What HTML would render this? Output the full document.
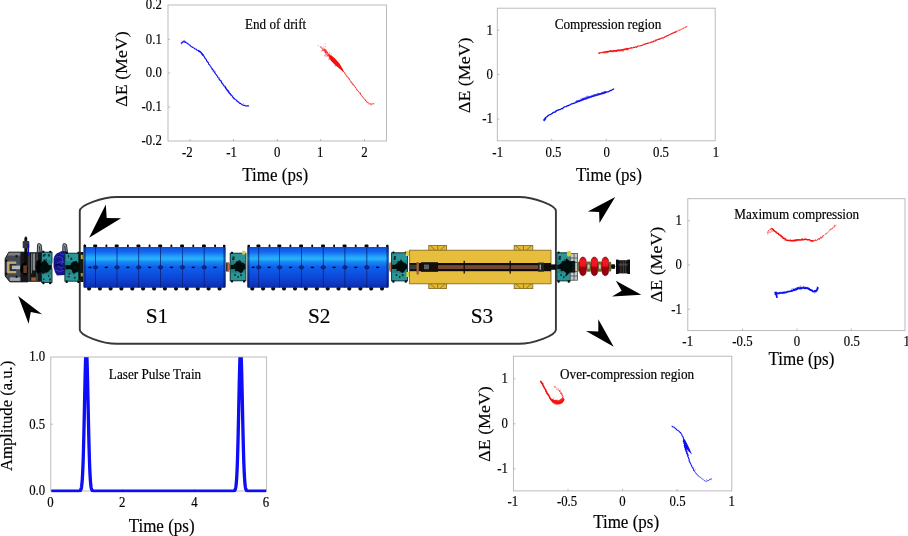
<!DOCTYPE html>
<html><head><meta charset="utf-8"><title>Figure</title>
<style>
html,body{margin:0;padding:0;background:#fff;}
body{width:908px;height:536px;overflow:hidden;font-family:"Liberation Serif",serif;}
svg{display:block;}
svg text{font-family:"Liberation Serif",serif;fill:#000;stroke:#000;stroke-width:0.16px;}
</style></head><body>
<svg width="908" height="536" viewBox="0 0 908 536">
<defs>
<linearGradient id="cylg" x1="0" y1="0" x2="0" y2="1">
<stop offset="0" stop-color="#104edc"/>
<stop offset="0.12" stop-color="#1466ee"/>
<stop offset="0.22" stop-color="#1e9cf8"/>
<stop offset="0.29" stop-color="#28b6fc"/>
<stop offset="0.36" stop-color="#1a8cf6"/>
<stop offset="0.48" stop-color="#1162ec"/>
<stop offset="0.72" stop-color="#0d4adc"/>
<stop offset="0.90" stop-color="#0b38c0"/>
<stop offset="1" stop-color="#092aa0"/>
</linearGradient>
<linearGradient id="redg" x1="0" y1="0" x2="0" y2="1">
<stop offset="0" stop-color="#d80818"/>
<stop offset="0.25" stop-color="#fa1828"/>
<stop offset="0.5" stop-color="#e81020"/>
<stop offset="0.52" stop-color="#a80010"/>
<stop offset="1" stop-color="#8a0008"/>
</linearGradient>
<filter id="tsoft" filterUnits="userSpaceOnUse" x="0" y="0" width="908" height="536"><feGaussianBlur stdDeviation="0.3"/></filter>
<filter id="soft2" x="-5%" y="-10%" width="110%" height="120%"><feGaussianBlur stdDeviation="0.3"/></filter>
<filter id="soft" x="-2%" y="-10%" width="104%" height="120%"><feGaussianBlur stdDeviation="0.45"/></filter>
</defs>
<rect width="908" height="536" fill="#fff"/>
<g filter="url(#tsoft)">
<rect x="168" y="5" width="218.5" height="136" fill="#fff" stroke="#b4b4b4" stroke-width="0.9"/>
<line x1="190" y1="141" x2="190" y2="139" stroke="#b4b4b4" stroke-width="1"/>
<line x1="233.5" y1="141" x2="233.5" y2="139" stroke="#b4b4b4" stroke-width="1"/>
<line x1="277.3" y1="141" x2="277.3" y2="139" stroke="#b4b4b4" stroke-width="1"/>
<line x1="320.7" y1="141" x2="320.7" y2="139" stroke="#b4b4b4" stroke-width="1"/>
<line x1="364.5" y1="141" x2="364.5" y2="139" stroke="#b4b4b4" stroke-width="1"/>
<line x1="168" y1="39.2" x2="170" y2="39.2" stroke="#b4b4b4" stroke-width="1"/>
<line x1="168" y1="73" x2="170" y2="73" stroke="#b4b4b4" stroke-width="1"/>
<line x1="168" y1="107" x2="170" y2="107" stroke="#b4b4b4" stroke-width="1"/>
<text transform="translate(187.3 157.1) scale(1 1.18)" font-size="12.8" text-anchor="middle">-2</text>
<text transform="translate(231.6 157.1) scale(1 1.18)" font-size="12.8" text-anchor="middle">-1</text>
<text transform="translate(277.2 157.1) scale(1 1.18)" font-size="12.8" text-anchor="middle">0</text>
<text transform="translate(320.2 157.1) scale(1 1.18)" font-size="12.8" text-anchor="middle">1</text>
<text transform="translate(364.5 157.1) scale(1 1.18)" font-size="12.8" text-anchor="middle">2</text>
<text transform="translate(161.8 9.4) scale(1 1.18)" font-size="12.8" text-anchor="end">0.2</text>
<text transform="translate(161.8 43.6) scale(1 1.18)" font-size="12.8" text-anchor="end">0.1</text>
<text transform="translate(161.8 77.4) scale(1 1.18)" font-size="12.8" text-anchor="end">0.0</text>
<text transform="translate(161.8 111.4) scale(1 1.18)" font-size="12.8" text-anchor="end">-0.1</text>
<text transform="translate(161.8 145.4) scale(1 1.18)" font-size="12.8" text-anchor="end">-0.2</text>
<text transform="translate(127.3 69) rotate(-90) scale(1.05 1)" font-size="17" text-anchor="middle" letter-spacing="0">&#916;E (MeV)</text>
<text transform="translate(275.2 180.9) scale(1 1.05)" font-size="17" text-anchor="middle">Time (ps)</text>
<text transform="translate(275.6 29.1) scale(1 1.05)" font-size="13.1" text-anchor="middle">End of drift</text>
<path d="M181.8 42.8 L182.5 42.29 L183.33 41.86 L184.54 41.8 L185.49 41.94 L185.96 42.25 L186.23 42.82 L187.32 43.3 L187.7 43.49 L188.4 44.14 L189.23 44.7 L189.9 45.09 L190.52 45.79 L191.01 46.53 L191.9 46.92 L192.27 46.95 L192.91 47.44 L193.69 47.87 L194.1 48.02 L194.69 48.78 L195.25 48.97 L196.08 49.03 L196.62 49.91 L196.88 50 L197.86 50.3 L198.6 50.82 L198.85 51.37 L199.8 51.78 L200.46 52.07 L200.85 52.31 L201.47 52.96 L201.76 53.39 L202.14 54.09 L203.03 54.43 L202.94 55.36 L203.84 55.94 L203.61 55.92 L204.41 56.83 L204.58 57.8 L205.5 58.43 L205.7 59.01 L206.32 59.61 L206.53 60.22 L206.58 60.99 L207.47 61.53 L207.38 62 L208.34 62.47 L208.6 63.67 L208.84 64.44 L209.6 64.77 L209.97 65.55 L210.35 66.26 L210.62 66.59 L211.33 67.29 L211.39 68.07 L212.23 68.44 L212.13 69.12 L212.78 69.73 L213.5 70.25 L213.93 70.87 L213.95 71.78 L214.69 72.4 L214.96 72.87 L215.33 73.54 L215.69 74.1 L216.25 74.66 L216.71 75.37 L217.37 75.94 L217.35 76.43 L217.86 77.27 L218.22 77.77 L219.03 77.84 L218.92 78.94 L219.61 79.53 L219.89 80.21 L220.44 80.59 L221.26 81.35 L221.14 81.86 L221.63 82.46 L221.59 82.97 L222.68 83.42 L222.9 84.37 L223.46 85.02 L223.39 85.24 L224.1 86.05 L224.8 86.08 L225.24 86.92 L225.6 87.51 L225.94 88.59 L226.3 88.99 L226.89 89.56 L227.15 90.37 L227.77 90.6 L228.49 90.99 L228.63 91.75 L228.95 92.51 L229.42 93.08 L229.56 93.26 L230.39 93.91 L230.55 94.36 L231.41 95.29 L231.91 95.52 L232.1 95.99 L232.76 97.06 L232.98 97.61 L233.85 97.85 L233.84 98.67 L234.7 98.83 L235.32 99.52 L236.04 99.75 L236.5 100.67 L237.16 100.88 L237.37 101.58 L238.12 101.89 L238.96 102.26 L238.89 102.66 L239.57 103.27 L240.56 103.39 L241.2 104.07 L241.93 104.55 L242.61 104.86 L243.59 105.28 L243.9 105.43 L244.36 105.3 L245.21 105.88 L246.25 105.79 L247.3 105.84 L247.97 105.91 L248.6 105.9" fill="none" stroke="#1010f2" stroke-width="1.15" stroke-linecap="round" stroke-linejoin="round" opacity="1"/>
<path d="M187.51 43.6h0.01M203.22 55.59h0.01M212.1 69.53h0.01M212.77 71.29h0.01M215.32 71.55h0.01M214.87 73.04h0.01M220.97 80.47h0.01M221.74 80.91h0.01M221.83 82.27h0.01M226.03 88.57h0.01M229.83 93.65h0.01M232.93 96.09h0.01M240.08 103.32h0.01M243.39 103.48h0.01" fill="none" stroke="#1010f2" stroke-width="0.8" stroke-linecap="round" opacity="0.55"/>
<path d="M181.4 43.6 L181.53 43.01 L182.49 42.24 L182.8 41.59 L183.15 41.43 L183.87 41.35 L184.8 41.85 L185.51 42.55 L186 42.8" fill="none" stroke="#1010f2" stroke-width="0.7" stroke-linecap="round" stroke-linejoin="round" opacity="0.7"/>
<path d="M181.25 44.01h0.01M180.76 42.89h0.01M181.98 41.09h0.01M182.01 43.12h0.01M183.26 40.35h0.01M184.72 40.27h0.01M184.71 40.76h0.01M184.82 42.31h0.01" fill="none" stroke="#1010f2" stroke-width="0.8" stroke-linecap="round" opacity="0.55"/>
<path d="M198.5 50.6 L198.56 50.71 L199.49 51.13 L200.36 52.07 L201.14 52.75 L201.91 53.52 L201.87 53.91 L202.42 54.48 L203 55.2" fill="none" stroke="#1010f2" stroke-width="1.5" stroke-linecap="round" stroke-linejoin="round" opacity="0.8"/>
<path d="M225 87 L225 87.36 L225.59 87.78 L226.06 88.27 L226.71 89.15 L227.04 89.59 L227.51 89.79 L227.78 91.01 L228.12 91.65 L228.98 91.96 L229.39 92.86 L230.03 93.7 L230.35 93.96 L230.7 94.62 L231 95" fill="none" stroke="#1010f2" stroke-width="1.4" stroke-linecap="round" stroke-linejoin="round" opacity="0.6"/>
<path d="M338 65.5 L338.22 65.66 L338.45 66.17 L339.02 66.66 L339.73 67.08 L340.64 67.68 L340.99 68.4 L341.6 68.59 L341.85 69.85 L342.49 70.72 L342.82 70.98 L343.31 71.43 L343.67 71.74 L344.1 72.1 L344.67 72.68 L344.92 73.89 L345.28 74.06 L346.01 74.66 L346.07 75.31 L346.79 75.99 L346.97 76.8 L347.9 77.03 L348.05 77.51 L348.71 78.02 L348.99 78.64 L349.15 79.45 L349.98 79.87 L350.01 80.61 L350.56 81.09 L351.3 81.83 L351.32 82.63 L351.86 82.91 L352.16 83.31 L352.36 84.25 L353.42 84.22 L353.27 84.71 L354.24 85.51 L354.42 86.1 L354.84 86.51 L355.3 87.01 L355.71 87.93 L356.26 88.39 L356.42 89.03 L356.93 89.88 L357.62 90.1 L357.8 90.54 L358.13 91.16 L358.81 91.89 L359.28 92.75 L359.45 92.87 L360.56 93.03 L360.39 94.07 L361.04 94.78 L361.49 95.44 L362.08 96.21 L362.23 96.55 L363.12 97.18 L363.41 98.15 L363.96 98.74 L364.67 99.22 L365.01 99.63 L364.95 100.06 L365.5 100.4" fill="none" stroke="#f80c0c" stroke-width="0.95" stroke-linecap="round" stroke-linejoin="round" opacity="0.9"/>
<path d="M342.3 69.26h0.01M342.09 72.1h0.01M345.74 74.66h0.01M348.95 78.31h0.01M350.56 81.88h0.01M352.09 82.49h0.01M353.36 85.67h0.01M357 90.69h0.01M360.16 94.57h0.01" fill="none" stroke="#f80c0c" stroke-width="0.8" stroke-linecap="round" opacity="0.55"/>
<path d="M365.5 100.4 L366.28 100.76 L366.68 101.73 L366.93 102.46 L368.16 102.75 L368.64 103.4 L369.77 103.57 L370.6 103.83 L370.84 104.27 L372.67 103.54 L373.88 103.81 L373.8 103.8" fill="none" stroke="#f80c0c" stroke-width="0.8" stroke-linecap="round" stroke-linejoin="round" opacity="0.75"/>
<path d="M366.82 101.04h0.01M366.22 101.92h0.01M367.8 102.25h0.01M368.3 102.71h0.01M368.92 104.47h0.01M370.33 103.88h0.01M370.41 104.84h0.01M371.46 104.83h0.01M372.26 104.41h0.01M373.95 103.84h0.01" fill="none" stroke="#f80c0c" stroke-width="0.8" stroke-linecap="round" opacity="0.55"/>
<path d="M328.8 55.2 L331.5 55.6 L335.5 59 L339.5 63.6 L343 69.6 L344.2 72.6 L340.2 69.2 L335.4 65.2 L331.6 61.6 L329.4 58.4 Z" fill="#f80c0c"/>
<path d="M324 49.5 L324.29 50.68 L325.14 50.07 L325.14 52.16 L325.6 51.29 L326.37 51.76 L326.99 52.84 L327.53 52.27 L327.17 53.08 L328.8 54.63 L327.69 55.39 L329.92 55.69 L330 57.03 L329.31 57.07 L331.3 58.39 L331.36 57.2 L332.04 58.02 L332.25 59.66 L332.41 60.52 L333.78 60.59 L334.01 60.62 L334.65 61.65 L334.67 62.09 L336.7 62.76 L336.64 63.5 L336.99 64.26 L336.49 64.7 L337.35 65.27 L338 65.5" fill="none" stroke="#f80c0c" stroke-width="1.2" stroke-linecap="round" stroke-linejoin="round" opacity="0.7"/>
<path d="M323.97 46.79h0.01M326.27 51.71h0.01M323.54 49.79h0.01M325.64 51.92h0.01M327.55 53.94h0.01M325.82 53.44h0.01M325.99 52.75h0.01M325.04 49.86h0.01M325.41 54.38h0.01M328.78 54.37h0.01M329.59 55.81h0.01M326.64 54.22h0.01M331.02 55.36h0.01M331.04 53.7h0.01M329.33 56.46h0.01M330.9 58.7h0.01M331.88 60.59h0.01M332.52 59.48h0.01M332.59 59.05h0.01M334.21 62.82h0.01M334.6 61.25h0.01M332.63 60.97h0.01M336.21 64.08h0.01M335.43 64.06h0.01M335.56 65.2h0.01M334.37 65.54h0.01M336.67 65.39h0.01M337.74 65.3h0.01M335.7 66.7h0.01" fill="none" stroke="#f80c0c" stroke-width="0.8" stroke-linecap="round" opacity="0.55"/>
<path d="M326.54 50.48h0.01M324.43 48.82h0.01M328.52 54.24h0.01M326.78 55.75h0.01M322.28 50.32h0.01M332.35 59.34h0.01M330.7 56.44h0.01M325.71 46.66h0.01M329.11 53.84h0.01M326.76 50.19h0.01M331.29 59.28h0.01M321.37 51.12h0.01M330.49 57.99h0.01M324.13 51.42h0.01M322.39 50.71h0.01M332.49 58.34h0.01M331.74 56.79h0.01M320.96 46.89h0.01M327.43 56.01h0.01M325.71 54.94h0.01M325.65 52.32h0.01M326.86 54.41h0.01M329.67 54.4h0.01M322.37 48.97h0.01M321.9 48.5h0.01M325.49 52.1h0.01M329.84 55.84h0.01M329.12 56.28h0.01M324.25 55.63h0.01M325.2 44.13h0.01M329.39 54.79h0.01M328.55 59.08h0.01M332.24 60.48h0.01M332.34 58.83h0.01M330.82 58.92h0.01M324.31 49.22h0.01M327.3 52.35h0.01M322.75 49.83h0.01M321.72 47.92h0.01M330.12 55.23h0.01M323 47.94h0.01M326.03 52.09h0.01M328.99 56.8h0.01M333.95 60.71h0.01M326.1 56.24h0.01M325.62 49.78h0.01M325.09 49.38h0.01M322.93 48.31h0.01M329.98 59.13h0.01M330.18 57.69h0.01M324.78 50.51h0.01M321.61 47.33h0.01M327.19 52.49h0.01M323.34 49.16h0.01M320.65 47.23h0.01M325.21 53.15h0.01M328 56.11h0.01M328.25 55.35h0.01M324.02 50.22h0.01M329.59 52.56h0.01M325.4 51.87h0.01M326.98 54.09h0.01M325.23 55.97h0.01M329.1 59.23h0.01M320.18 46.83h0.01M325.72 50.57h0.01M318.2 45.56h0.01M323.12 50.46h0.01M325.08 50.66h0.01M322.52 50.04h0.01" fill="none" stroke="#f80c0c" stroke-width="0.85" stroke-linecap="round" opacity="0.6"/>
<rect x="497.3" y="8.2" width="217.9" height="132.6" fill="#fff" stroke="#b4b4b4" stroke-width="0.9"/>
<line x1="551.7" y1="140.8" x2="551.7" y2="138.8" stroke="#b4b4b4" stroke-width="1"/>
<line x1="606.3" y1="140.8" x2="606.3" y2="138.8" stroke="#b4b4b4" stroke-width="1"/>
<line x1="660.8" y1="140.8" x2="660.8" y2="138.8" stroke="#b4b4b4" stroke-width="1"/>
<line x1="497.3" y1="30.2" x2="499.3" y2="30.2" stroke="#b4b4b4" stroke-width="1"/>
<line x1="497.3" y1="74.5" x2="499.3" y2="74.5" stroke="#b4b4b4" stroke-width="1"/>
<line x1="497.3" y1="119" x2="499.3" y2="119" stroke="#b4b4b4" stroke-width="1"/>
<text transform="translate(497.7 156.6) scale(1 1.18)" font-size="12.8" text-anchor="middle">-1</text>
<text transform="translate(553.5 156.6) scale(1 1.18)" font-size="12.8" text-anchor="middle">0.5</text>
<text transform="translate(606.7 156.6) scale(1 1.18)" font-size="12.8" text-anchor="middle">0</text>
<text transform="translate(661 156.6) scale(1 1.18)" font-size="12.8" text-anchor="middle">0.5</text>
<text transform="translate(715.9 156.6) scale(1 1.18)" font-size="12.8" text-anchor="middle">1</text>
<text transform="translate(492.9 34.6) scale(1 1.18)" font-size="12.8" text-anchor="end">1</text>
<text transform="translate(492.9 78.9) scale(1 1.18)" font-size="12.8" text-anchor="end">0</text>
<text transform="translate(492.9 123.4) scale(1 1.18)" font-size="12.8" text-anchor="end">-1</text>
<text transform="translate(469.8 75.3) rotate(-90) scale(1.05 1)" font-size="17" text-anchor="middle" letter-spacing="0">&#916;E (MeV)</text>
<text transform="translate(608.9 180.9) scale(1 1.05)" font-size="17" text-anchor="middle">Time (ps)</text>
<text transform="translate(608 29.3) scale(1 1.05)" font-size="13.2" text-anchor="middle">Compression region</text>
<path d="M543.9 119.9 L544.29 119.2 L545.05 118.88 L545.24 117.99 L545.79 117.4 L546.35 117.21 L546.9 116.74 L547.35 116.52 L548.08 115.47 L548.69 115.32 L549.11 115.03 L549.95 114.51 L550.5 114.6 L551.29 113.94 L551.82 113.58 L552.43 113.38 L553.08 112.46 L553.76 112.39 L554.55 112.09 L555.14 112.25 L555.61 111.3 L556.23 110.71 L556.84 110.83 L557.77 110.06 L558.32 110.13 L559.15 109.59 L560.06 109.54 L561.06 109.14 L561.45 108.65 L562.47 108.54 L562.81 108.03 L563.63 107.63 L564.21 107.06 L564.92 106.7 L565.95 106.75 L566.23 106.59 L567.33 105.68 L568.21 105.86 L568.97 105.18 L569.4 105.17 L570.03 104.83 L570.87 104.24 L571.16 103.97 L572.02 103.81 L572.97 103.65 L573.53 103.23 L574.09 103.27 L574.98 102.85 L575.47 102.85 L576.12 102.42 L577.13 101.98 L577.77 101.56 L578.48 101.54 L578.69 101.36 L579.49 101.2 L580.21 100.67 L581.06 100.37 L581.73 100.07 L582.48 99.9 L583.07 99.15 L583.91 99.41 L584.14 99.14 L585.3 99.05 L585.78 98.88 L586.7 98.78 L587.46 98.22 L588.17 97.65 L589.2 97.76 L589.95 97.54 L590.24 96.87 L590.9 96.83 L591.55 96.84 L592.43 96.48 L593.08 96.29 L593.76 96.24 L594.57 95.78 L594.8 95.95 L595.77 95.69 L596.13 95.23 L597.11 94.83 L597.69 95.03 L598.65 94.98 L598.97 94.25 L599.89 94.47 L600.61 93.84 L601.49 93.99 L602.23 93.53 L602.95 93.54 L603.55 92.83 L604.45 93.02 L605.1 92.86 L605.78 92.41 L606.59 92.25 L607.66 91.83 L608.45 91.87 L608.93 91.41 L609.82 90.97 L610.24 90.47 L611.16 90.52 L611.97 89.97 L612.58 89.56 L612.99 89.41 L613.7 89" fill="none" stroke="#1010f2" stroke-width="1.25" stroke-linecap="round" stroke-linejoin="round" opacity="1"/>
<path d="M556.26 111.27h0.01M568.26 105.3h0.01M582.94 100.25h0.01M583.15 99.71h0.01M609.41 90.52h0.01" fill="none" stroke="#1010f2" stroke-width="0.8" stroke-linecap="round" opacity="0.55"/>
<path d="M576 102 L576.47 101.75 L577.23 101.03 L577.56 101.19 L578.42 100.68 L578.99 100.74 L580.14 100.28 L580.53 100.21 L581.49 99.9 L582.2 99.13 L583.32 99.62 L583.75 98.62 L584.69 98.29 L585.14 97.87 L586.16 97.74 L586.54 97.65 L587 97.24 L587.81 97.03 L588.82 96.86 L589.21 97.11 L590.16 96.93 L590.94 96.56 L591.53 96.49 L591.63 96 L592.77 95.74 L593.68 95.25 L593.85 95.13 L595.17 94.83 L595.1 95.22 L596.9 94.82 L597.2 94.36 L597.62 93.91 L598.92 93.88 L599.71 93.75 L599.36 93.66 L601.35 93.43 L601.59 92.87 L602.85 92.58 L603.14 92.61 L604.3 92.11 L604.68 92.23 L605.02 91.75 L606 91.8" fill="none" stroke="#1010f2" stroke-width="1.5" stroke-linecap="round" stroke-linejoin="round" opacity="0.75"/>
<path d="M575.44 101.99h0.01M577.42 101.67h0.01M576.63 102.14h0.01M576.68 100.83h0.01M579.29 101.33h0.01M580.29 100.59h0.01M581.11 101.54h0.01M580.67 98.7h0.01M582.22 98.43h0.01M582.83 98.2h0.01M583.99 97.88h0.01M585.41 98.57h0.01M585.98 96.53h0.01M585.55 98.78h0.01M586.63 97.38h0.01M587.29 97.64h0.01M587.51 95.85h0.01M589.05 96.81h0.01M590.27 95.81h0.01M592.01 96.28h0.01M593.82 95.25h0.01M592.47 95.93h0.01M593.59 95.92h0.01M595.32 95.33h0.01M595.31 95.01h0.01M597.62 94.75h0.01M597.2 93.96h0.01M598.14 93.11h0.01M600.2 94.29h0.01M598.42 94h0.01M601.97 93.09h0.01M602.79 93.16h0.01M603.08 93.6h0.01M604.8 91.7h0.01M604.35 92.79h0.01M605.38 91.58h0.01M605.34 92.56h0.01" fill="none" stroke="#1010f2" stroke-width="0.8" stroke-linecap="round" opacity="0.55"/>
<path d="M544.2 120.4 L544.29 120.12 L545.48 119 L545.5 118.6" fill="none" stroke="#1010f2" stroke-width="1.6" stroke-linecap="round" stroke-linejoin="round" opacity="0.9"/>
<path d="M598.7 53.2 L599.02 52.79 L599.55 53.22 L600.66 52.83 L600.93 52.64 L601.49 52.74 L602.45 52.61 L603.15 52.04 L604.3 51.99 L605.14 52 L605.51 52 L606.6 51.43 L607.51 51.76 L608.06 51.24 L608.53 51.41 L609.6 51.12 L609.98 50.92 L610.83 51.26 L611.3 50.99 L612.41 51.29 L613.16 50.86 L613.54 50.66 L614.34 50.78 L615.16 50.96 L615.93 50.38 L616.86 50.66 L617.31 50.27 L617.66 50.12 L618.87 50.05 L619.18 50.13 L620.17 50.1 L620.95 50.13 L621.39 49.95 L622.07 49.78 L623 49.58 L623.85 49.42 L624.6 49.46 L625.15 49.08 L625.72 48.96 L626.56 48.92 L627.87 48.91 L628.21 48.51 L628.69 48.47 L629.58 48.2 L630.57 48.15 L631.19 47.68 L631.71 48 L632.45 47.9 L633.17 47.67 L633.47 47.35 L634.08 47.42 L635.25 47.11 L635.74 46.86 L636.93 47.1 L637.29 46.83 L637.73 46.06 L638.65 46.05 L639.35 46.04 L640.73 45.68 L640.92 45.64 L641.63 45.54 L642.68 44.93 L643.11 44.88 L643.86 44.42 L644.2 44.05 L645.32 44.27 L645.95 43.57 L646.58 43.62 L647.11 43.34 L648.2 43.36 L648.78 43.1 L649.38 42.77 L650.21 42.6 L650.9 42.22 L651.6 41.87 L652.73 41.81 L653.12 41.87 L654 40.91 L654.58 41.07 L655.51 40.89 L656.02 40.16 L656.44 40.15 L657.34 39.67 L657.83 39.52 L658.56 39.4 L659.15 38.86 L660.07 39.11 L660.48 38.75 L661.23 38.42 L661.89 37.9 L662.56 37.95 L662.94 37.85 L664.19 37.53 L664.89 37.03 L665.18 36.48 L665.8 36.3 L666.65 36.09 L667 36.07 L668.48 35.33 L668.91 35.11 L669.55 34.66 L670.15 34.25 L670.93 34.06 L671.71 33.57 L672.41 33.38 L673.26 32.83 L673.94 32.87 L674.63 32.32 L675.03 32.07 L675.74 32.16 L676 31.7" fill="none" stroke="#f80c0c" stroke-width="1.1" stroke-linecap="round" stroke-linejoin="round" opacity="1"/>
<path d="M599.4 53.63h0.01M604.93 51.39h0.01M606.65 51.27h0.01M609.98 51.02h0.01M615.23 50.5h0.01M624 48.47h0.01M627.01 48.84h0.01M631.04 48.78h0.01M631.07 47.49h0.01M636.39 47.45h0.01M655.75 39.68h0.01M661.16 38.33h0.01M663.47 38.99h0.01M667.07 35.29h0.01" fill="none" stroke="#f80c0c" stroke-width="0.8" stroke-linecap="round" opacity="0.55"/>
<path d="M604 52.6 L604.21 52.51 L604.66 52.51 L605.79 52.45 L606.62 52.38 L607.07 52.2 L608.14 52.05 L608.47 51.62 L609.61 51.4 L610.66 51.35 L611.52 51.08 L611.88 51.19 L612.7 51.27 L613.66 51.35 L614.06 51.04 L615.02 50.96 L615.42 51.38 L616.52 51.2 L616.95 50.75 L618.16 50.64 L618.64 50.4 L619.87 50.74 L619.9 50.44 L620.53 50.5 L621.57 50.03 L622.55 50.8 L623.26 49.75 L623.97 50.04 L624.74 49.31 L626.02 49.11 L625.92 49.39 L627.02 48.84 L627.06 49.35 L628 49.2" fill="none" stroke="#f80c0c" stroke-width="1.5" stroke-linecap="round" stroke-linejoin="round" opacity="0.7"/>
<path d="M604.04 52.56h0.01M603.48 52.45h0.01M604.78 52.84h0.01M606.8 52.51h0.01M608.05 51.43h0.01M608.47 51.58h0.01M610.18 50.51h0.01M610.41 51.65h0.01M612.08 52.02h0.01M613.42 52.02h0.01M613.59 50.27h0.01M613.18 51.65h0.01M615.8 51.21h0.01M616.68 50.4h0.01M617.21 50.81h0.01M616.96 50.19h0.01M617.45 50.35h0.01M619.04 50.45h0.01M619.37 50.85h0.01M621.9 49.23h0.01M620.81 50.49h0.01M622.19 49.72h0.01M623.42 51.31h0.01M626.67 50.37h0.01M627.19 47.8h0.01M627.85 49.68h0.01M627.61 49.19h0.01" fill="none" stroke="#f80c0c" stroke-width="0.8" stroke-linecap="round" opacity="0.55"/>
<path d="M676 31.7 L676.4 31.33 L677.63 31.06 L678.41 30.72 L679.04 30.13 L679.96 29.82 L680.74 29.77 L681.5 29.1" fill="none" stroke="#f80c0c" stroke-width="0.9" stroke-linecap="round" stroke-linejoin="round" opacity="0.85"/>
<path d="M675.49 31.71h0.01M676.25 31.05h0.01M679.17 30.46h0.01M681.07 29.55h0.01" fill="none" stroke="#f80c0c" stroke-width="0.8" stroke-linecap="round" opacity="0.55"/>
<path d="M682.6 28.6 L684.2 27.8 M685.3 27.3 L686.9 26.5" stroke="#f80c0c" stroke-width="1" fill="none" opacity="0.9" stroke-linecap="round"/>
<rect x="687.8" y="198.7" width="217.2" height="131.9" fill="#fff" stroke="#b4b4b4" stroke-width="0.9"/>
<line x1="742.5" y1="330.6" x2="742.5" y2="328.6" stroke="#b4b4b4" stroke-width="1"/>
<line x1="797" y1="330.6" x2="797" y2="328.6" stroke="#b4b4b4" stroke-width="1"/>
<line x1="851.3" y1="330.6" x2="851.3" y2="328.6" stroke="#b4b4b4" stroke-width="1"/>
<line x1="687.8" y1="220.8" x2="689.8" y2="220.8" stroke="#b4b4b4" stroke-width="1"/>
<line x1="687.8" y1="265" x2="689.8" y2="265" stroke="#b4b4b4" stroke-width="1"/>
<line x1="687.8" y1="309.2" x2="689.8" y2="309.2" stroke="#b4b4b4" stroke-width="1"/>
<text transform="translate(687.7 345.9) scale(1 1.18)" font-size="12.8" text-anchor="middle">-1</text>
<text transform="translate(742.4 345.9) scale(1 1.18)" font-size="12.8" text-anchor="middle">-0.5</text>
<text transform="translate(797 345.9) scale(1 1.18)" font-size="12.8" text-anchor="middle">0</text>
<text transform="translate(851.8 345.9) scale(1 1.18)" font-size="12.8" text-anchor="middle">0.5</text>
<text transform="translate(906.6 345.9) scale(1 1.18)" font-size="12.8" text-anchor="middle">1</text>
<text transform="translate(681.9 225.2) scale(1 1.18)" font-size="12.8" text-anchor="end">1</text>
<text transform="translate(681.9 269.4) scale(1 1.18)" font-size="12.8" text-anchor="end">0</text>
<text transform="translate(681.9 313.6) scale(1 1.18)" font-size="12.8" text-anchor="end">-1</text>
<text transform="translate(661.8 264.5) rotate(-90) scale(1.05 1)" font-size="17" text-anchor="middle" letter-spacing="0">&#916;E (MeV)</text>
<text transform="translate(801.4 365.3) scale(1 1.05)" font-size="17" text-anchor="middle">Time (ps)</text>
<text transform="translate(796.7 219.3) scale(1 1.05)" font-size="13.2" text-anchor="middle">Maximum compression</text>
<path d="M771.8 228.6 L772.3 228.9 L773.38 229.56 L773.55 230.52 L774.41 230.92 L775.08 231.41 L775.96 231.62 L776.16 232.57 L776.92 232.96 L777.96 233.29 L778.52 233.89 L778.72 234.31 L780.03 235.1 L780.25 235.28 L781.12 235.69 L781.27 236.77 L782.28 236.83 L782.78 237.28 L782.89 238.03 L783.82 238.41 L784.57 238.4 L785 238.8 L785.64 239.52 L786.36 240.21 L786.81 240.22 L787.92 240.34 L788.27 240.46 L789.35 240.46 L790.11 240.29 L790.75 240.73 L791.43 240.77 L792.55 240.66 L792.85 240.67 L793.67 240.39 L794.33 240.92 L795.29 240.57 L796.06 239.9 L796.69 240.39 L797.25 239.86 L798.16 239.96 L799.11 239.79 L799.68 240.01 L800.72 239.89 L801.2 240.02 L801.8 239.27 L802.74 239.7 L803.56 239.83 L804.35 239.55 L804.63 239.31 L805.53 239.16 L806.19 239.19 L807.14 239.79 L808.19 239.75 L808.93 239.62 L809.56 239.92 L810.1 240.2 L810.79 240.5 L812.34 240.78 L813 240.8" fill="none" stroke="#f80c0c" stroke-width="1.5" stroke-linecap="round" stroke-linejoin="round" opacity="1"/>
<path d="M776.28 232.54h0.01M781.18 235.35h0.01M783.32 238.07h0.01M784.24 238.32h0.01M784.11 239.35h0.01M784.52 240.04h0.01M786.08 238.44h0.01M790.7 239.3h0.01M792.13 239.72h0.01M792.2 240.97h0.01M794.84 239.82h0.01M794.11 239.69h0.01M798.09 239.82h0.01M802.46 238.55h0.01M804.84 239.13h0.01M811.7 240.77h0.01M812.84 241.2h0.01" fill="none" stroke="#f80c0c" stroke-width="0.8" stroke-linecap="round" opacity="0.55"/>
<path d="M813 240.8 L813.57 240.87 L814.01 240.41 L815.5 240.08 L815.98 240.5 L817.24 239.9 L817.46 239.75 L817.95 238.77 L819.34 238.93 L819.54 237.94 L820.56 237.14 L821.27 237.48 L821.55 237.07 L822.5 236.58 L823.01 236.5 L823.29 235.68 L823.85 235.5 L824.53 234.84 L825.31 234.22 L826.39 233.67 L826.94 233.41 L827.58 232.55 L827.97 232.39 L828.04 231.82 L828.71 231.28 L829.66 230.61 L829.35 229.83 L830.28 229.64 L831 229.46 L832.08 228.87 L832.34 227.98 L833.04 227.97 L833.93 226.38 L834.43 226.8 L834.99 225.36 L835.15 225.51 L835.6 225" fill="none" stroke="#f80c0c" stroke-width="0.9" stroke-linecap="round" stroke-linejoin="round" opacity="0.55"/>
<path d="M812.54 240.65h0.01M814.96 240.61h0.01M815.58 239.48h0.01M817.44 239.28h0.01M818.26 238.82h0.01M819.4 239h0.01M821.02 237.83h0.01M821.08 237.28h0.01M822.49 236.25h0.01M822.91 235.58h0.01M823.31 235.48h0.01M825.74 234.21h0.01M826.34 233.44h0.01M826.95 233.1h0.01M830.48 229.67h0.01M830.68 229.03h0.01M832.12 228.61h0.01M832.06 228.63h0.01M833.82 227.64h0.01M834.81 226.72h0.01M834.3 225.54h0.01M834.78 225.14h0.01M836.04 225.95h0.01" fill="none" stroke="#f80c0c" stroke-width="0.8" stroke-linecap="round" opacity="0.55"/>
<path d="M811 241.2 L811.69 240.99 L812.62 241.33 L813.2 241.41 L813.93 240.89 L814.87 240.74 L815.27 240.58 L816.6 240.54 L817.29 240.28 L817.91 239.56 L818.22 239.05 L819.69 239.8 L819.69 238.66 L820.63 238.05 L821.61 238.47 L821.48 237.11 L822.9 237.29 L823 236.6" fill="none" stroke="#f80c0c" stroke-width="0.7" stroke-linecap="round" stroke-linejoin="round" opacity="0.5"/>
<path d="M811.8 241.28h0.01M811.25 242.06h0.01M812.95 240.59h0.01M815.19 240.36h0.01M814.98 240.25h0.01M816.98 240.55h0.01M819.49 238.63h0.01M820.58 238.03h0.01M822.79 237.51h0.01" fill="none" stroke="#f80c0c" stroke-width="0.8" stroke-linecap="round" opacity="0.55"/>
<path d="M767.4 232.2 L767.98 231.69 L768.53 230.73 L768.97 230.12 L769.74 229.46 L770.99 229.76 L770.87 228.77 L771.8 228.6" fill="none" stroke="#f80c0c" stroke-width="0.8" stroke-linecap="round" stroke-linejoin="round" opacity="0.6"/>
<path d="M767.18 232.53h0.01M768.71 230.77h0.01M769.01 232.09h0.01M768.58 230.7h0.01M770.25 229.16h0.01M770.4 229.1h0.01M771.63 230.33h0.01M772.21 228.72h0.01" fill="none" stroke="#f80c0c" stroke-width="0.8" stroke-linecap="round" opacity="0.55"/>
<path d="M767.8 233.6 L768 233.08 L768.92 232.69 L769.45 231.95 L770.73 231.64 L771.45 231.15 L772.6 231.18 L773 230.6" fill="none" stroke="#f80c0c" stroke-width="0.7" stroke-linecap="round" stroke-linejoin="round" opacity="0.5"/>
<path d="M767.73 234.51h0.01M770.37 232.63h0.01M767.82 232.22h0.01M772.75 231.82h0.01" fill="none" stroke="#f80c0c" stroke-width="0.8" stroke-linecap="round" opacity="0.55"/>
<path d="M776.9 297.2 L776.62 296.28 L776.52 295.04 L775.77 294.58 L775.56 294.03 L775.27 292.96 L775.16 292.63 L776.22 292.46 L776.68 293.07 L777.83 293.48 L778.69 293.21 L779.79 292.81 L780.13 293.03 L781.16 292.99 L782.18 292.83 L782.55 293.08 L782.93 292.28 L783.9 292.96 L784.88 292.22 L785.91 292.51 L786.8 291.99 L787.32 291.55 L788.08 291.62 L788.19 291.55 L789.59 291.48 L790.6 291.03 L791.15 291.21 L792.06 290.8 L792.92 290.65 L793.87 289.69 L794.53 290.23 L795.57 289.44 L796.48 289.56 L796.91 288.91 L797.59 289.04 L797.63 288.55 L798.54 287.98 L799.77 288.6 L800.4 287.77 L800.8 288.33 L801.87 288.08 L802.56 287.98 L803.13 287.71 L803.6 287.91 L804.8 288.26 L806.27 288.06 L805.53 287.77 L807.49 288.44 L807.79 288.3 L808.7 288.99 L809.59 289.65 L810.46 289.89 L810.44 290.12 L811.23 290.11 L812.09 290.31 L812.76 291.33 L814.07 291.65 L815.04 290.68 L815.61 291.53 L816.83 290.45 L816.78 290.22 L817.34 288.95 L817.83 288.19 L817.7 287.6" fill="none" stroke="#1010f2" stroke-width="1.7" stroke-linecap="round" stroke-linejoin="round" opacity="1"/>
<path d="M777.55 297.16h0.01M776.95 295.62h0.01M775.05 294.59h0.01M776.59 293.41h0.01M776 294.22h0.01M777.41 292.77h0.01M777.88 292.79h0.01M778.98 292.24h0.01M779.92 292.8h0.01M780.66 292.09h0.01M781.87 292.27h0.01M785.74 292.85h0.01M786.59 292.61h0.01M789.45 291.46h0.01M791.6 289.62h0.01M791.22 289.07h0.01M791.49 291.4h0.01M793.08 288.91h0.01M792.73 288.88h0.01M795.81 288.97h0.01M799.38 286.69h0.01M798.66 288.76h0.01M800.15 288.06h0.01M801.85 289.27h0.01M800.85 289.69h0.01M804.97 289.52h0.01M805.7 288.1h0.01M807.24 288.41h0.01M808.89 288.58h0.01M809.9 289.97h0.01M809.8 289.13h0.01M811.68 291.48h0.01M814.61 293.47h0.01M816.81 291.13h0.01M817.88 290.15h0.01M816.39 288.71h0.01M817 286.96h0.01" fill="none" stroke="#1010f2" stroke-width="0.8" stroke-linecap="round" opacity="0.55"/>
<path d="M795 288.6 L796.26 288.37 L795.98 287.87 L796.62 288.4 L797.98 287.71 L798.12 287.81 L800.13 288.46 L800.55 287.22 L800.99 286.98 L801.13 286.8 L802.16 287.28 L803.43 287.53 L803.76 286.19 L804.87 287.29 L804.74 287.71 L805.43 287.25 L806.59 287.58 L807.39 287.07 L807.67 288.11 L809.23 288.4 L809.1 288.16 L810 288.8" fill="none" stroke="#1010f2" stroke-width="0.9" stroke-linecap="round" stroke-linejoin="round" opacity="0.7"/>
<path d="M793.91 288.42h0.01M794.96 289.47h0.01M796.25 289.35h0.01M797.55 287.53h0.01M796.69 287.65h0.01M799.57 288.97h0.01M798.27 287.19h0.01M801.41 288.43h0.01M800.48 285.89h0.01M802.46 288.07h0.01M805.35 287.7h0.01M804.86 288.49h0.01M806.25 287.69h0.01M808.64 287.83h0.01M806.79 288.34h0.01M809.65 289.39h0.01M808.96 288.56h0.01M809.58 289.46h0.01" fill="none" stroke="#1010f2" stroke-width="0.8" stroke-linecap="round" opacity="0.55"/>
<path d="M776.2 294.5 L776.71 293.89 L777.75 293.72 L778.61 293.72 L779.5 293.8" fill="none" stroke="#1010f2" stroke-width="0.9" stroke-linecap="round" stroke-linejoin="round" opacity="0.8"/>
<rect x="513.4" y="356.2" width="218.4" height="134.7" fill="#fff" stroke="#b4b4b4" stroke-width="0.9"/>
<line x1="568" y1="490.9" x2="568" y2="488.9" stroke="#b4b4b4" stroke-width="1"/>
<line x1="622.6" y1="490.9" x2="622.6" y2="488.9" stroke="#b4b4b4" stroke-width="1"/>
<line x1="677.2" y1="490.9" x2="677.2" y2="488.9" stroke="#b4b4b4" stroke-width="1"/>
<line x1="513.4" y1="378.8" x2="515.4" y2="378.8" stroke="#b4b4b4" stroke-width="1"/>
<line x1="513.4" y1="423.8" x2="515.4" y2="423.8" stroke="#b4b4b4" stroke-width="1"/>
<line x1="513.4" y1="468.8" x2="515.4" y2="468.8" stroke="#b4b4b4" stroke-width="1"/>
<text transform="translate(512.9 505.8) scale(1 1.18)" font-size="12.8" text-anchor="middle">-1</text>
<text transform="translate(567 505.8) scale(1 1.18)" font-size="12.8" text-anchor="middle">-0.5</text>
<text transform="translate(622.4 505.8) scale(1 1.18)" font-size="12.8" text-anchor="middle">0</text>
<text transform="translate(677.6 505.8) scale(1 1.18)" font-size="12.8" text-anchor="middle">0.5</text>
<text transform="translate(731.6 505.8) scale(1 1.18)" font-size="12.8" text-anchor="middle">1</text>
<text transform="translate(507.9 383.2) scale(1 1.18)" font-size="12.8" text-anchor="end">1</text>
<text transform="translate(507.9 428.2) scale(1 1.18)" font-size="12.8" text-anchor="end">0</text>
<text transform="translate(507.9 473.2) scale(1 1.18)" font-size="12.8" text-anchor="end">-1</text>
<text transform="translate(489.8 424) rotate(-90) scale(1.05 1)" font-size="17" text-anchor="middle" letter-spacing="0">&#916;E (MeV)</text>
<text transform="translate(626.1 528.3) scale(1 1.05)" font-size="17" text-anchor="middle">Time (ps)</text>
<text transform="translate(627.1 379.3) scale(1 1.05)" font-size="13.2" text-anchor="middle">Over-compression region</text>
<path d="M540.6 381.4 L541.09 381.76 L541.28 382.73 L542.16 383.47 L542.8 384.16 L542.69 384.91 L543.17 385.51 L543.35 385.69 L543.8 386.85 L543.88 387.19 L544.83 388.61 L544.95 388.61 L545.23 389.26 L545.96 390.19 L545.83 390.86 L545.92 391.35 L546.7 391.94 L546.85 392.5 L547 393.33 L547.5 393.95 L548.17 394.26 L548.19 395.21 L548.97 395.7 L549.21 396.5 L549.88 397.46 L549.62 397.91 L550.31 398.5 L550.81 399.43 L551.28 399.89 L551.98 400.69 L552.14 400.97 L552.81 401.28 L553.68 402.04 L554.52 402.21 L554.68 402.27 L556.18 402.44 L556.87 403.07 L557.48 403 L558.4 403 L558.98 403.14 L559.71 403.26 L560.18 402.62 L561.17 402.4 L561.85 402.3 L562.73 401.03 L563.05 400.85 L563.62 400.02 L563.6 399.4" fill="none" stroke="#f80c0c" stroke-width="1.5" stroke-linecap="round" stroke-linejoin="round" opacity="1"/>
<path d="M543.48 383.61h0.01M542.51 385.59h0.01M544.47 386.77h0.01M546 393.08h0.01M547.58 393.01h0.01M548.91 393.92h0.01M550.32 399.5h0.01M550.77 398.33h0.01M551.95 400.14h0.01M553.96 400.89h0.01M554.9 402.46h0.01M554.94 401.83h0.01M554.68 402.28h0.01M557.37 402.56h0.01M558.92 400.88h0.01M558.89 403.65h0.01M560.06 402.6h0.01M563.58 399.58h0.01" fill="none" stroke="#f80c0c" stroke-width="0.8" stroke-linecap="round" opacity="0.55"/>
<path d="M550 397.8 L552.6 403 L555.4 404.4 L558.4 404.6 L561.8 403.4 L563.9 400.8 L563.8 398.4 L562 398 L558.8 400.2 L554.4 400 Z" fill="#f80c0c" opacity="0.82"/>
<path d="M540.8 381 L543.2 383.2 L542.6 385.6 Z" fill="#f80c0c"/>
<path d="M563.5 399.6 L563.19 398.89 L563 398.3 L562.42 397.01 L562.99 396.5 L562.68 395.42 L562.03 394.99 L561.93 394.55 L561.72 393.31 L560.93 393.42 L560.73 392.27 L559.99 391.32 L559.3 390.8" fill="none" stroke="#f80c0c" stroke-width="1" stroke-linecap="round" stroke-linejoin="round" opacity="0.85"/>
<path d="M563.17 400.17h0.01M563.38 398.55h0.01M563.7 397.32h0.01M561.75 396h0.01M562.83 395.17h0.01M561.61 394.15h0.01M560.23 393.49h0.01M561.09 393.45h0.01M560.43 390.34h0.01M559.46 391.01h0.01" fill="none" stroke="#f80c0c" stroke-width="0.8" stroke-linecap="round" opacity="0.55"/>
<path d="M559.3 390.8 L558.44 390.28 L558.54 389.78 L557.82 389.17 L556.61 388.2 L556.36 388.01 L555.65 387.37 L554.72 387.31 L554 386.2" fill="none" stroke="#f80c0c" stroke-width="0.7" stroke-linecap="round" stroke-linejoin="round" opacity="0.4"/>
<path d="M559.95 390.56h0.01M558.04 389.87h0.01M558.25 389.16h0.01M558.19 388.92h0.01M556.61 389.43h0.01M555.86 387.47h0.01M555.8 386.28h0.01M554.7 387.41h0.01M554.8 386.41h0.01" fill="none" stroke="#f80c0c" stroke-width="0.8" stroke-linecap="round" opacity="0.55"/>
<path d="M553 399.5 L553 400.41 L553.08 400.45 L555.57 400.79 L554.97 401.39 L556.26 401.66 L556.62 401.1 L557.61 402.14 L558.29 402.12 L558.9 402.25 L560.86 401.59 L560.45 401.01 L560.47 400.93 L562.45 400.01 L562.4 400" fill="none" stroke="#f80c0c" stroke-width="1.2" stroke-linecap="round" stroke-linejoin="round" opacity="0.7"/>
<path d="M553.99 398.05h0.01M553.21 398.89h0.01M555.42 399.92h0.01M555.86 402.13h0.01M556.69 400.25h0.01M556.43 400.24h0.01M557.47 400.14h0.01M556.62 404.27h0.01M558.59 401.75h0.01M559.01 401.16h0.01M559.57 402.46h0.01M560.43 402.62h0.01M560.55 399.47h0.01M562.27 398.64h0.01M564.15 399.33h0.01" fill="none" stroke="#f80c0c" stroke-width="0.8" stroke-linecap="round" opacity="0.55"/>
<path d="M671.9 426.2 L672.12 426.18 L672.77 427.03 L673.75 426.99 L674.52 427.74 L675.09 428.21 L675.63 428.43 L675.98 428.9 L676.67 429.57 L677.1 430.19 L677.77 430.26 L678.52 430.88 L678.93 431.13 L679.37 431.55 L680.27 432.53 L680.88 432.95 L681.06 433.53 L681.65 434.03 L681.96 435.12 L681.97 435.21 L682.43 436.33 L683.05 436.77 L683.17 437.46 L683.3 438.05 L683.42 438.85 L683.8 439.99 L683.43 440.37 L683.88 441.15 L684.19 441.86 L684.27 442.32 L683.97 443.53 L684.61 443.83 L684.76 444.86 L684.23 445.64 L684.6 446.43 L684.8 446.86 L684.82 447.74 L685.48 448.48 L685.18 449.63 L686.06 450.08 L685.9 450.48 L685.98 451.52 L686.77 451.97 L686.82 452.83 L687.03 453.65 L687.66 454.09 L687.72 455.17 L687.76 455.68 L687.8 456.57 L688.16 456.94 L688.49 457.57 L688.52 458.35 L689.18 459.06 L689.23 459.54 L689.02 460.8 L689.51 460.92 L689.81 461.99 L689.8 462.45 L690.45 463.17 L690.89 464.23 L691.18 464.74 L691.47 465.45 L691.82 466.34 L692.15 467.17 L693.02 467.64 L693.04 468.65 L693.49 469.23 L693.67 470.15 L694.18 470.66 L694.3 471" fill="none" stroke="#1010f2" stroke-width="1.05" stroke-linecap="round" stroke-linejoin="round" opacity="1"/>
<path d="M683.6 437.45h0.01M683.05 441.42h0.01M684.23 445.55h0.01M688.36 457.9h0.01" fill="none" stroke="#1010f2" stroke-width="0.8" stroke-linecap="round" opacity="0.55"/>
<path d="M694.3 471 L694.92 471.79 L694.92 471.69 L695.51 472.89 L695.55 473.06 L696.55 474.28 L697.19 474.82 L697.44 474.57 L698.42 475.52 L698.85 476.16 L699.6 476.53 L700.42 477.21 L700.84 477.92 L701.66 478.35 L701.49 478.52 L703.16 479.31 L703.37 479.75 L703.61 479.8 L704.54 480.82 L705.71 481.32 L706.47 481.43 L707.13 480.45 L708.2 480.74 L708.75 480.46 L709.09 480.12 L709.67 479.35 L710.64 479.15 L711.6 479" fill="none" stroke="#1010f2" stroke-width="0.85" stroke-linecap="round" stroke-linejoin="round" opacity="0.7"/>
<path d="M695.41 469.78h0.01M695.72 472.76h0.01M696.37 473.81h0.01M696.44 473.54h0.01M697.35 475.16h0.01M698.08 476.07h0.01M698.02 475.91h0.01M699.39 477.39h0.01M704.75 480.56h0.01M706.96 481.27h0.01M706.65 479.5h0.01M708.7 480.49h0.01M709.91 479.53h0.01M710.19 479.84h0.01M711 478.75h0.01" fill="none" stroke="#1010f2" stroke-width="0.8" stroke-linecap="round" opacity="0.55"/>
<path d="M683.2 438.4 L684.9 439.6 L687 443.6 L689.2 448 L692 454.4 L689.2 452 L686.8 449.2 L685.6 449.6 L684.2 444.6 Z" fill="#1010f2"/>
<path d="M683.8 440.5 L683.5 441.04 L684.12 441.71 L683.97 442.3 L684.44 443.42 L685.08 444.2 L684.67 444.49 L685.19 445.61 L685.09 446.1 L685.44 446.62 L685.47 447.74 L685.69 448.71 L685.79 449.15 L686.19 449.49 L686.14 450.51 L686.66 451.12 L686.91 452.22 L686.71 452.66 L687.02 453.82 L687.65 454.68 L688.01 455.02 L688 455.6" fill="none" stroke="#1010f2" stroke-width="1.5" stroke-linecap="round" stroke-linejoin="round" opacity="0.8"/>
<rect x="50.8" y="357" width="215.8" height="134" fill="#fff" stroke="#b4b4b4" stroke-width="0.9"/>
<line x1="122.6" y1="491" x2="122.6" y2="489" stroke="#b4b4b4" stroke-width="1"/>
<line x1="194.5" y1="491" x2="194.5" y2="489" stroke="#b4b4b4" stroke-width="1"/>
<line x1="50.8" y1="424.2" x2="52.8" y2="424.2" stroke="#b4b4b4" stroke-width="1"/>
<text transform="translate(50.5 506.9) scale(1 1.18)" font-size="12.8" text-anchor="middle">0</text>
<text transform="translate(122.3 506.9) scale(1 1.18)" font-size="12.8" text-anchor="middle">2</text>
<text transform="translate(194.4 506.9) scale(1 1.18)" font-size="12.8" text-anchor="middle">4</text>
<text transform="translate(265.9 506.9) scale(1 1.18)" font-size="12.8" text-anchor="middle">6</text>
<text transform="translate(45.2 361.4) scale(1 1.18)" font-size="12.8" text-anchor="end">1.0</text>
<text transform="translate(45.2 428.6) scale(1 1.18)" font-size="12.8" text-anchor="end">0.5</text>
<text transform="translate(45.2 495.4) scale(1 1.18)" font-size="12.8" text-anchor="end">0.0</text>
<text transform="translate(12.4 415.9) rotate(-90) scale(1 1)" font-size="16.6" text-anchor="middle" letter-spacing="0">Amplitude (a.u.)</text>
<text transform="translate(161.6 532.4) scale(1 1.05)" font-size="17" text-anchor="middle">Time (ps)</text>
<text transform="translate(155 379.3) scale(1 1.05)" font-size="13.2" text-anchor="middle">Laser Pulse Train</text>
<clipPath id="cp5"><rect x="50.8" y="357.3" width="215.8" height="135"/></clipPath>
<path clip-path="url(#cp5)" d="M51.3 491.1 L77.3 491.1 L77.55 491.1 L77.8 491.1 L78.05 491.1 L78.3 491.09 L78.55 491.09 L78.8 491.08 L79.05 491.06 L79.3 491.03 L79.55 490.97 L79.8 490.89 L80.05 490.76 L80.3 490.55 L80.55 490.24 L80.8 489.77 L81.05 489.08 L81.3 488.1 L81.55 486.73 L81.8 484.86 L82.05 482.36 L82.3 479.08 L82.55 474.89 L82.8 469.66 L83.05 463.28 L83.3 455.69 L83.55 446.9 L83.8 436.97 L84.05 426.09 L84.3 414.5 L84.55 402.58 L84.8 390.76 L85.05 379.52 L85.3 369.41 L85.55 360.91 L85.8 354.47 L86.05 350.46 L86.3 349.1 L86.55 350.46 L86.8 354.47 L87.05 360.91 L87.3 369.41 L87.55 379.52 L87.8 390.76 L88.05 402.58 L88.3 414.5 L88.55 426.09 L88.8 436.97 L89.05 446.9 L89.3 455.69 L89.55 463.28 L89.8 469.66 L90.05 474.89 L90.3 479.08 L90.55 482.36 L90.8 484.86 L91.05 486.73 L91.3 488.1 L91.55 489.08 L91.8 489.77 L92.05 490.24 L92.3 490.55 L92.55 490.76 L92.8 490.89 L93.05 490.97 L93.3 491.03 L93.55 491.06 L93.8 491.08 L94.05 491.09 L94.3 491.09 L94.55 491.1 L94.8 491.1 L95.05 491.1 L95.3 491.1 L231.6 491.1 L231.85 491.1 L232.1 491.1 L232.35 491.1 L232.6 491.09 L232.85 491.09 L233.1 491.08 L233.35 491.06 L233.6 491.03 L233.85 490.97 L234.1 490.89 L234.35 490.76 L234.6 490.55 L234.85 490.24 L235.1 489.77 L235.35 489.08 L235.6 488.1 L235.85 486.73 L236.1 484.86 L236.35 482.36 L236.6 479.08 L236.85 474.89 L237.1 469.66 L237.35 463.28 L237.6 455.69 L237.85 446.9 L238.1 436.97 L238.35 426.09 L238.6 414.5 L238.85 402.58 L239.1 390.76 L239.35 379.52 L239.6 369.41 L239.85 360.91 L240.1 354.47 L240.35 350.46 L240.6 349.1 L240.85 350.46 L241.1 354.47 L241.35 360.91 L241.6 369.41 L241.85 379.52 L242.1 390.76 L242.35 402.58 L242.6 414.5 L242.85 426.09 L243.1 436.97 L243.35 446.9 L243.6 455.69 L243.85 463.28 L244.1 469.66 L244.35 474.89 L244.6 479.08 L244.85 482.36 L245.1 484.86 L245.35 486.73 L245.6 488.1 L245.85 489.08 L246.1 489.77 L246.35 490.24 L246.6 490.55 L246.85 490.76 L247.1 490.89 L247.35 490.97 L247.6 491.03 L247.85 491.06 L248.1 491.08 L248.35 491.09 L248.6 491.09 L248.85 491.1 L249.1 491.1 L249.35 491.1 L249.6 491.1 L266.3 491.1" fill="none" stroke="#0808f8" stroke-width="3.3" stroke-linejoin="round"/>
<path d="M79.8 211 C79.8 205.4 102 197 116.8 197 L518.9 197 C533.7 197 555.9 205.4 555.9 211 L555.9 329.8 C555.9 335.4 533.7 343.8 518.9 343.8 L116.8 343.8 C102 343.8 79.8 335.4 79.8 329.8 Z" fill="none" stroke="#383838" stroke-width="1.9"/>
<polygon points="89.1,237.7 105.8,204.4 106.7,217.9 121.1,218.2" fill="#000"/>
<polygon points="18.2,296 42,314.2 30.8,312 28.6,323.7" fill="#000"/>
<polygon points="615.2,196.9 587.8,211.4 599.1,212 599.5,223" fill="#000"/>
<polygon points="641.3,294.7 615.8,280.7 621.7,290.7 612,296.4" fill="#000"/>
<polygon points="613.7,346.8 598.3,319.2 598.3,331.4 586,331.1" fill="#000"/>
<text transform="translate(157 322.6) scale(1 1)" font-size="21.3" text-anchor="middle">S1</text>
<text transform="translate(319.2 322.6) scale(1 1)" font-size="21.3" text-anchor="middle">S2</text>
<text transform="translate(482 322.6) scale(1 1)" font-size="21.3" text-anchor="middle">S3</text>
<g filter="url(#soft)">
<g filter="url(#soft2)">
<path d="M5.2 258.6 L8.8 252.2 L28 252.2 L28 281.8 L9.8 281.8 L5.2 276 Z" fill="#434a52" stroke="#101214" stroke-width="1"/>
<path d="M9 252.8 H27 V255.6 H7.4 Z" fill="#7c8088"/>
<rect x="9.8" y="277.4" width="17.2" height="3.5" fill="#a2a4a8"/>
<path d="M7 261.6 H16.2 V263.9 H9.7 V270.9 H16.2 V273.2 H7 Z" fill="#c4a768"/>
<rect x="9.7" y="263.9" width="6.5" height="7" fill="#2a2e34"/>
<rect x="11.9" y="265.6" width="8.8" height="3.6" fill="#b4b7bc"/>
<rect x="5.4" y="259.6" width="1.8" height="2.2" fill="#0a0a0c"/>
<rect x="5.4" y="272.6" width="1.8" height="2.2" fill="#0a0a0c"/>
<rect x="15.6" y="255.2" width="1.8" height="2.2" fill="#0a0a0c"/>
<rect x="15.6" y="275.6" width="1.8" height="2.2" fill="#0a0a0c"/>
<rect x="20.4" y="252.2" width="21.4" height="29.6" fill="#141618"/>
<polygon points="28.09,268.5 28.04,270.92 27.42,273.15 26.45,275.12 24.99,275.47 23.56,275.97 22.87,272.89 21.58,272.55 20.26,271.12 20.46,268.5 20.32,265.92 22.01,265.09 22.52,263.03 23.74,262.9 24.94,262.08 26.16,262.78 26.47,265.27 27.26,266.58" fill="#050506"/>
<rect x="23.3" y="265.4" width="3.6" height="7.6" fill="#7c4c30" opacity="0.8"/>
<rect x="28.4" y="253" width="1.2" height="28" fill="#4c5056"/>
<rect x="31" y="253.4" width="1" height="20" fill="#6a6e74"/>
<rect x="32.6" y="253.4" width="2.6" height="17" fill="#868a90"/>
<rect x="36.4" y="253.2" width="1.2" height="28" fill="#5a5f66"/>
<rect x="31.2" y="277.4" width="4.6" height="3.4" fill="#a65c30"/>
<polygon points="42.19,267 42.02,269.73 41.08,271.47 40.14,272.43 39.21,272.38 38.24,274.39 37.32,272.98 36.24,272.01 36.14,269.26 35.44,267 36.26,264.85 36.2,261.9 37.15,260.32 38.3,260.37 39.33,259.99 40.42,260.45 40.79,263.11 41.69,264.55" fill="#050506"/>
<rect x="24.4" y="237.6" width="2.8" height="26" fill="#09090b"/>
<rect x="22.7" y="241" width="6.6" height="7.3" rx="1" fill="#35373b"/>
<rect x="25" y="236.6" width="1.8" height="3.2" rx="0.8" fill="#09090b"/>
<rect x="27.4" y="243.8" width="1.7" height="12" fill="#0c0cb0"/>
<path d="M37.3 252.4 L37.5 245 Q37.9 243 39.3 243.6 L41.1 244.6 L42.1 252.4 Z" fill="#8e9399" stroke="#1c1e22" stroke-width="0.9"/>
<path d="M39.3 246 L40.1 252" stroke="#1c1e22" stroke-width="0.8"/>
<path d="M62.7 252.4 L62.9 245 Q63.3 243 64.7 243.6 L66.5 244.6 L67.5 252.4 Z" fill="#8e9399" stroke="#1c1e22" stroke-width="0.9"/>
<path d="M64.7 246 L65.5 252" stroke="#1c1e22" stroke-width="0.8"/>
<rect x="41.6" y="252.2" width="10.4" height="30.2" fill="#2a9698" stroke="#0a2a2b" stroke-width="0.9"/>
<rect x="42.4" y="260.2" width="8.8" height="14.2" fill="#1c6f72" opacity="0.55"/>
<polygon points="49.23,267.3 50.09,269.46 49.02,271.27 47.38,272.3 45.59,272.32 43.78,273.77 41.85,273.03 40.79,271.06 39.9,269.3 40.2,267.3 40.98,265.74 41.04,263.77 42.1,262.07 44.07,262.65 45.82,260.82 47.09,262.85 48.31,264 48.7,265.71" fill="#050a0a"/>
<rect x="42.1" y="265.2" width="9.4" height="4.2" fill="#050a0a"/>
<rect x="42.87" y="254.68" width="1.7" height="2.06" fill="#06201f" opacity="0.85"/>
<rect x="43.04" y="278.66" width="1.57" height="1.2" fill="#06201f" opacity="0.85"/>
<rect x="47.89" y="254.16" width="2.04" height="2.34" fill="#06201f" opacity="0.85"/>
<rect x="43.79" y="253.89" width="1.93" height="1.73" fill="#06201f" opacity="0.85"/>
<rect x="45.49" y="258.93" width="1.36" height="1.57" fill="#06201f" opacity="0.85"/>
<rect x="49.17" y="278.49" width="1.77" height="1.89" fill="#06201f" opacity="0.85"/>
<rect x="48" y="274.98" width="1.28" height="2" fill="#06201f" opacity="0.85"/>
<rect x="42.3" y="281.8" width="2.2" height="2.4" rx="0.8" fill="#050808"/>
<rect x="42.3" y="250.8" width="2.2" height="2" rx="0.8" fill="#050808"/>
<rect x="49.1" y="281.8" width="2.2" height="2.4" rx="0.8" fill="#050808"/>
<rect x="49.1" y="250.8" width="2.2" height="2" rx="0.8" fill="#050808"/>
<polygon points="48.14,266.6 49.1,269.4 47.23,270.25 46.87,273.02 45.34,272.07 44.21,272.55 42.48,273.78 42.26,270.41 41.01,269.07 41.07,266.6 41.3,264.32 41.9,262.24 43.16,261.51 44.04,258.93 45.34,261.11 46.48,261.4 47.1,263.15 48,264.51" fill="#050a0a"/>
<rect x="52" y="263.2" width="1.8" height="5.4" fill="#e8e8ee"/>
<path d="M53.6 259 Q54.6 253.4 59 252.4 Q62 250.4 66 251.4 L69.2 254.4 L69.2 268 Q66.4 271 65 275 L57 275.4 Q54.4 272 53.6 267 Z" fill="#15158a"/>
<path d="M54.8 258.6 q3.4 -3.6 6.8 -0.8 M57 263.6 q4 -4 8 -0.4 M55.6 270 q4 3 8.6 0 M60 253.6 q3 2 6.4 0.2 M62 257 q2 4 -1 8 M58 266 q2 3 6 2" stroke="#4646d0" stroke-width="0.8" fill="none"/>
<path d="M55.4 265.6 q3 -2.6 6.4 0.2 M63 268 l2 3" stroke="#04043a" stroke-width="1.1" fill="none"/>
<rect x="64.9" y="253.2" width="15.3" height="28" fill="#2a9698" stroke="#0a2a2b" stroke-width="0.9"/>
<rect x="65.7" y="261.2" width="13.7" height="12" fill="#1c6f72" opacity="0.55"/>
<polygon points="79.89,267.2 79.72,269.06 79.17,270.97 77.22,271.22 76,272.61 74.21,273.15 72.44,272.46 72.11,270.05 70.54,269.08 70.31,267.2 70.82,265.44 70.9,263.21 72.82,262.68 74.37,262.25 76.1,261.14 77.59,262.47 78.37,264.18 79.11,265.59" fill="#050a0a"/>
<rect x="65.4" y="265.1" width="14.3" height="4.2" fill="#050a0a"/>
<rect x="70.62" y="257.65" width="1.58" height="1.55" fill="#06201f" opacity="0.85"/>
<rect x="68.36" y="273" width="1.89" height="1.65" fill="#06201f" opacity="0.85"/>
<rect x="70.58" y="258.55" width="1.54" height="1.54" fill="#06201f" opacity="0.85"/>
<rect x="67.56" y="275.93" width="2.16" height="1.33" fill="#06201f" opacity="0.85"/>
<rect x="73.29" y="272.61" width="1.3" height="1.77" fill="#06201f" opacity="0.85"/>
<rect x="67.94" y="255.18" width="1.24" height="2.35" fill="#06201f" opacity="0.85"/>
<rect x="73.96" y="276.83" width="1.57" height="1.77" fill="#06201f" opacity="0.85"/>
<rect x="65.6" y="280.6" width="2.2" height="2.4" rx="0.8" fill="#050808"/>
<rect x="65.6" y="251.8" width="2.2" height="2" rx="0.8" fill="#050808"/>
<rect x="77.3" y="280.6" width="2.2" height="2.4" rx="0.8" fill="#050808"/>
<rect x="77.3" y="251.8" width="2.2" height="2" rx="0.8" fill="#050808"/>
<polygon points="79.93,266.8 79.48,268.61 78.36,269.83 78.07,272.43 76.03,271.12 74.6,272.32 72.7,272.5 72.53,269.74 70.97,268.76 70.56,266.8 71.95,265.27 72.06,263.39 72.89,261.52 74.62,261.4 76.28,260.74 77.35,262.68 78.52,263.62 78.98,265.21" fill="#050a0a"/>
<rect x="78.4" y="254" width="2.2" height="26.4" fill="#070b0a"/>
<rect x="80.4" y="252" width="3.2" height="30" fill="#15170c"/>
<rect x="80.8" y="254.8" width="2" height="4.4" fill="#c8b430"/>
<rect x="80.8" y="273" width="2" height="3.4" fill="#a89830"/>
</g>
<rect x="83.73" y="244.5" width="1.8" height="3.4" rx="0.6" fill="#050510"/>
<rect x="93.3" y="244.4" width="3.8" height="3.6" rx="0.8" fill="#050510"/>
<rect x="105.47" y="244.5" width="1.8" height="3.4" rx="0.6" fill="#050510"/>
<rect x="97.9" y="286.5" width="4" height="4" rx="1.7" fill="#0a0a18"/>
<rect x="87.1" y="286.5" width="4" height="4" rx="1.7" fill="#0a0a18"/>
<rect x="114.8" y="244.4" width="3.8" height="3.6" rx="0.8" fill="#050510"/>
<rect x="126.97" y="244.5" width="1.8" height="3.4" rx="0.6" fill="#050510"/>
<rect x="119.4" y="286.5" width="4" height="4" rx="1.7" fill="#0a0a18"/>
<rect x="108.6" y="286.5" width="4" height="4" rx="1.7" fill="#0a0a18"/>
<rect x="136.5" y="244.4" width="3.8" height="3.6" rx="0.8" fill="#050510"/>
<rect x="148.67" y="244.5" width="1.8" height="3.4" rx="0.6" fill="#050510"/>
<rect x="141.1" y="286.5" width="4" height="4" rx="1.7" fill="#0a0a18"/>
<rect x="130.3" y="286.5" width="4" height="4" rx="1.7" fill="#0a0a18"/>
<rect x="158.3" y="244.4" width="3.8" height="3.6" rx="0.8" fill="#050510"/>
<rect x="170.47" y="244.5" width="1.8" height="3.4" rx="0.6" fill="#050510"/>
<rect x="162.9" y="286.5" width="4" height="4" rx="1.7" fill="#0a0a18"/>
<rect x="152.1" y="286.5" width="4" height="4" rx="1.7" fill="#0a0a18"/>
<rect x="180.2" y="244.4" width="3.8" height="3.6" rx="0.8" fill="#050510"/>
<rect x="192.37" y="244.5" width="1.8" height="3.4" rx="0.6" fill="#050510"/>
<rect x="184.8" y="286.5" width="4" height="4" rx="1.7" fill="#0a0a18"/>
<rect x="174" y="286.5" width="4" height="4" rx="1.7" fill="#0a0a18"/>
<rect x="202" y="244.4" width="3.8" height="3.6" rx="0.8" fill="#050510"/>
<rect x="214.17" y="244.5" width="1.8" height="3.4" rx="0.6" fill="#050510"/>
<rect x="206.6" y="286.5" width="4" height="4" rx="1.7" fill="#0a0a18"/>
<rect x="195.8" y="286.5" width="4" height="4" rx="1.7" fill="#0a0a18"/>
<rect x="217.54" y="286.5" width="4" height="4" rx="1.7" fill="#0a0a18"/>
<rect x="83.7" y="244.7" width="2.4" height="3.4" rx="0.8" fill="#050510"/>
<rect x="223" y="244.7" width="2.4" height="3.4" rx="0.8" fill="#050510"/>
<rect x="83.5" y="247" width="142.1" height="40.7" rx="1.6" fill="url(#cylg)"/>
<rect x="83.5" y="247" width="2.2" height="40.7" fill="#04124a" opacity="0.55"/>
<rect x="223.4" y="247" width="2.2" height="40.7" fill="#04124a" opacity="0.55"/>
<line x1="95.5" y1="247" x2="95.5" y2="287.7" stroke="#051a6e" stroke-width="0.8" opacity="0.9"/>
<ellipse cx="95.5" cy="267.3" rx="2.3" ry="1.5" fill="#0a2a9a" stroke="#04103f" stroke-width="0.6"/>
<line x1="117" y1="247" x2="117" y2="287.7" stroke="#051a6e" stroke-width="0.8" opacity="0.9"/>
<ellipse cx="117" cy="267.3" rx="2.3" ry="1.5" fill="#0a2a9a" stroke="#04103f" stroke-width="0.6"/>
<line x1="138.7" y1="247" x2="138.7" y2="287.7" stroke="#051a6e" stroke-width="0.8" opacity="0.9"/>
<ellipse cx="138.7" cy="267.3" rx="2.3" ry="1.5" fill="#0a2a9a" stroke="#04103f" stroke-width="0.6"/>
<line x1="160.5" y1="247" x2="160.5" y2="287.7" stroke="#051a6e" stroke-width="0.8" opacity="0.9"/>
<ellipse cx="160.5" cy="267.3" rx="2.3" ry="1.5" fill="#0a2a9a" stroke="#04103f" stroke-width="0.6"/>
<line x1="182.4" y1="247" x2="182.4" y2="287.7" stroke="#051a6e" stroke-width="0.8" opacity="0.9"/>
<ellipse cx="182.4" cy="267.3" rx="2.3" ry="1.5" fill="#0a2a9a" stroke="#04103f" stroke-width="0.6"/>
<line x1="204.2" y1="247" x2="204.2" y2="287.7" stroke="#051a6e" stroke-width="0.8" opacity="0.9"/>
<ellipse cx="204.2" cy="267.3" rx="2.3" ry="1.5" fill="#0a2a9a" stroke="#04103f" stroke-width="0.6"/>
<ellipse cx="106.25" cy="267.3" rx="1.8" ry="0.9" fill="#03082e"/>
<ellipse cx="127.85" cy="267.3" rx="1.8" ry="0.9" fill="#03082e"/>
<ellipse cx="149.6" cy="267.3" rx="1.8" ry="0.9" fill="#03082e"/>
<ellipse cx="171.45" cy="267.3" rx="1.8" ry="0.9" fill="#03082e"/>
<ellipse cx="193.3" cy="267.3" rx="1.8" ry="0.9" fill="#03082e"/>
<ellipse cx="89.9" cy="267.3" rx="1.8" ry="0.9" fill="#03082e"/>
<ellipse cx="215" cy="267.3" rx="1.8" ry="0.9" fill="#03082e"/>
<rect x="256.5" y="244.4" width="3.8" height="3.6" rx="0.8" fill="#050510"/>
<rect x="268.61" y="244.5" width="1.8" height="3.4" rx="0.6" fill="#050510"/>
<rect x="261.1" y="286.5" width="4" height="4" rx="1.7" fill="#0a0a18"/>
<rect x="250.3" y="286.5" width="4" height="4" rx="1.7" fill="#0a0a18"/>
<rect x="277.4" y="244.4" width="3.8" height="3.6" rx="0.8" fill="#050510"/>
<rect x="289.51" y="244.5" width="1.8" height="3.4" rx="0.6" fill="#050510"/>
<rect x="282" y="286.5" width="4" height="4" rx="1.7" fill="#0a0a18"/>
<rect x="271.2" y="286.5" width="4" height="4" rx="1.7" fill="#0a0a18"/>
<rect x="299.2" y="244.4" width="3.8" height="3.6" rx="0.8" fill="#050510"/>
<rect x="311.31" y="244.5" width="1.8" height="3.4" rx="0.6" fill="#050510"/>
<rect x="303.8" y="286.5" width="4" height="4" rx="1.7" fill="#0a0a18"/>
<rect x="293" y="286.5" width="4" height="4" rx="1.7" fill="#0a0a18"/>
<rect x="321.1" y="244.4" width="3.8" height="3.6" rx="0.8" fill="#050510"/>
<rect x="333.21" y="244.5" width="1.8" height="3.4" rx="0.6" fill="#050510"/>
<rect x="325.7" y="286.5" width="4" height="4" rx="1.7" fill="#0a0a18"/>
<rect x="314.9" y="286.5" width="4" height="4" rx="1.7" fill="#0a0a18"/>
<rect x="342.7" y="244.4" width="3.8" height="3.6" rx="0.8" fill="#050510"/>
<rect x="354.81" y="244.5" width="1.8" height="3.4" rx="0.6" fill="#050510"/>
<rect x="347.3" y="286.5" width="4" height="4" rx="1.7" fill="#0a0a18"/>
<rect x="336.5" y="286.5" width="4" height="4" rx="1.7" fill="#0a0a18"/>
<rect x="364.6" y="244.4" width="3.8" height="3.6" rx="0.8" fill="#050510"/>
<rect x="376.71" y="244.5" width="1.8" height="3.4" rx="0.6" fill="#050510"/>
<rect x="369.2" y="286.5" width="4" height="4" rx="1.7" fill="#0a0a18"/>
<rect x="358.4" y="286.5" width="4" height="4" rx="1.7" fill="#0a0a18"/>
<rect x="380.02" y="286.5" width="4" height="4" rx="1.7" fill="#0a0a18"/>
<rect x="247.5" y="244.7" width="2.4" height="3.4" rx="0.8" fill="#050510"/>
<rect x="386.1" y="244.7" width="2.4" height="3.4" rx="0.8" fill="#050510"/>
<rect x="247.3" y="247" width="141.4" height="40.7" rx="1.6" fill="url(#cylg)"/>
<rect x="247.3" y="247" width="2.2" height="40.7" fill="#04124a" opacity="0.55"/>
<rect x="386.5" y="247" width="2.2" height="40.7" fill="#04124a" opacity="0.55"/>
<line x1="258.7" y1="247" x2="258.7" y2="287.7" stroke="#051a6e" stroke-width="0.8" opacity="0.9"/>
<ellipse cx="258.7" cy="267.3" rx="2.3" ry="1.5" fill="#0a2a9a" stroke="#04103f" stroke-width="0.6"/>
<line x1="279.6" y1="247" x2="279.6" y2="287.7" stroke="#051a6e" stroke-width="0.8" opacity="0.9"/>
<ellipse cx="279.6" cy="267.3" rx="2.3" ry="1.5" fill="#0a2a9a" stroke="#04103f" stroke-width="0.6"/>
<line x1="301.4" y1="247" x2="301.4" y2="287.7" stroke="#051a6e" stroke-width="0.8" opacity="0.9"/>
<ellipse cx="301.4" cy="267.3" rx="2.3" ry="1.5" fill="#0a2a9a" stroke="#04103f" stroke-width="0.6"/>
<line x1="323.3" y1="247" x2="323.3" y2="287.7" stroke="#051a6e" stroke-width="0.8" opacity="0.9"/>
<ellipse cx="323.3" cy="267.3" rx="2.3" ry="1.5" fill="#0a2a9a" stroke="#04103f" stroke-width="0.6"/>
<line x1="344.9" y1="247" x2="344.9" y2="287.7" stroke="#051a6e" stroke-width="0.8" opacity="0.9"/>
<ellipse cx="344.9" cy="267.3" rx="2.3" ry="1.5" fill="#0a2a9a" stroke="#04103f" stroke-width="0.6"/>
<line x1="366.8" y1="247" x2="366.8" y2="287.7" stroke="#051a6e" stroke-width="0.8" opacity="0.9"/>
<ellipse cx="366.8" cy="267.3" rx="2.3" ry="1.5" fill="#0a2a9a" stroke="#04103f" stroke-width="0.6"/>
<ellipse cx="269.15" cy="267.3" rx="1.8" ry="0.9" fill="#03082e"/>
<ellipse cx="290.5" cy="267.3" rx="1.8" ry="0.9" fill="#03082e"/>
<ellipse cx="312.35" cy="267.3" rx="1.8" ry="0.9" fill="#03082e"/>
<ellipse cx="334.1" cy="267.3" rx="1.8" ry="0.9" fill="#03082e"/>
<ellipse cx="355.85" cy="267.3" rx="1.8" ry="0.9" fill="#03082e"/>
<ellipse cx="253.1" cy="267.3" rx="1.8" ry="0.9" fill="#03082e"/>
<ellipse cx="377.6" cy="267.3" rx="1.8" ry="0.9" fill="#03082e"/>
<ellipse cx="228.3" cy="267" rx="1.8" ry="5" fill="#c07048"/>
<rect x="230.2" y="253.2" width="15.7" height="27.6" fill="#2a9698" stroke="#0a2a2b" stroke-width="0.9"/>
<rect x="231" y="261.2" width="14.1" height="11.6" fill="#1c6f72" opacity="0.55"/>
<polygon points="244.15,267 244.53,269.03 243.31,270.53 242.27,272.27 240.5,273.05 238.82,271.64 237.51,270.96 234.98,271.3 235.18,268.78 234.96,267 233.6,264.57 235.62,263.31 236.57,261.21 238.66,261.32 240.51,260.91 241.75,262.73 243.77,263.03 245.23,264.69" fill="#050a0a"/>
<rect x="230.7" y="264.9" width="14.7" height="4.2" fill="#050a0a"/>
<rect x="232.26" y="258.62" width="1.47" height="1.51" fill="#06201f" opacity="0.85"/>
<rect x="240.22" y="273.82" width="1.59" height="2.29" fill="#06201f" opacity="0.85"/>
<rect x="234.25" y="273.89" width="1.56" height="1.96" fill="#06201f" opacity="0.85"/>
<rect x="237.46" y="275.99" width="1.36" height="1.98" fill="#06201f" opacity="0.85"/>
<rect x="232.46" y="256.42" width="2.05" height="1.66" fill="#06201f" opacity="0.85"/>
<rect x="238.31" y="260.01" width="2.07" height="2.02" fill="#06201f" opacity="0.85"/>
<rect x="232.32" y="257.93" width="2.06" height="2.1" fill="#06201f" opacity="0.85"/>
<rect x="230.9" y="280.2" width="2.2" height="2.4" rx="0.8" fill="#050808"/>
<rect x="230.9" y="251.8" width="2.2" height="2" rx="0.8" fill="#050808"/>
<rect x="243" y="280.2" width="2.2" height="2.4" rx="0.8" fill="#050808"/>
<rect x="243" y="251.8" width="2.2" height="2" rx="0.8" fill="#050808"/>
<rect x="242.2" y="250.8" width="3.2" height="3.6" fill="#d6d040"/>
<rect x="226.2" y="262.5" width="1.2" height="9" fill="#111"/>
<ellipse cx="390.4" cy="267" rx="1.5" ry="5" fill="#c07048"/>
<rect x="391.6" y="252.8" width="16" height="28.1" fill="#2a9698" stroke="#0a2a2b" stroke-width="0.9"/>
<rect x="392.4" y="260.8" width="14.4" height="12.1" fill="#1c6f72" opacity="0.55"/>
<polygon points="405.7,266.85 406.08,268.88 404.86,270.38 403.82,272.12 402.05,272.9 400.37,271.49 399.06,270.81 396.53,271.15 396.73,268.63 396.51,266.85 395.15,264.42 397.17,263.16 398.12,261.06 400.21,261.17 402.06,260.76 403.3,262.58 405.32,262.88 406.78,264.54" fill="#050a0a"/>
<rect x="392.1" y="264.75" width="15" height="4.2" fill="#050a0a"/>
<rect x="393.69" y="258.22" width="1.47" height="1.51" fill="#06201f" opacity="0.85"/>
<rect x="401.84" y="273.92" width="1.59" height="2.29" fill="#06201f" opacity="0.85"/>
<rect x="395.73" y="273.99" width="1.56" height="1.96" fill="#06201f" opacity="0.85"/>
<rect x="399.01" y="276.09" width="1.36" height="1.98" fill="#06201f" opacity="0.85"/>
<rect x="393.9" y="256.02" width="2.05" height="1.66" fill="#06201f" opacity="0.85"/>
<rect x="399.88" y="259.61" width="2.07" height="2.02" fill="#06201f" opacity="0.85"/>
<rect x="393.75" y="257.53" width="2.06" height="2.1" fill="#06201f" opacity="0.85"/>
<rect x="392.3" y="280.3" width="2.2" height="2.4" rx="0.8" fill="#050808"/>
<rect x="392.3" y="251.4" width="2.2" height="2" rx="0.8" fill="#050808"/>
<rect x="404.7" y="280.3" width="2.2" height="2.4" rx="0.8" fill="#050808"/>
<rect x="404.7" y="251.4" width="2.2" height="2" rx="0.8" fill="#050808"/>
<rect x="405.8" y="250.8" width="3.4" height="5.2" fill="#d6d040"/>
<rect x="406.4" y="272" width="3" height="5" fill="#d6d040"/>
<rect x="428.8" y="245.4" width="17.8" height="5.2" fill="#e4b935" stroke="#7d6420" stroke-width="0.8"/>
<path d="M430.3 245.8 l5 4.4 M445.1 245.8 l-5 4.4 M437.7 245.4 v5" stroke="#8a7020" stroke-width="0.9" fill="none"/>
<rect x="428.8" y="283.4" width="17.8" height="5.2" fill="#e4b935" stroke="#7d6420" stroke-width="0.8"/>
<path d="M430.3 283.8 l5 4.4 M445.1 283.8 l-5 4.4 M437.7 283.4 v5" stroke="#8a7020" stroke-width="0.9" fill="none"/>
<rect x="514.2" y="245.4" width="18.6" height="5.2" fill="#e4b935" stroke="#7d6420" stroke-width="0.8"/>
<path d="M515.7 245.8 l5 4.4 M531.3 245.8 l-5 4.4 M523.5 245.4 v5" stroke="#8a7020" stroke-width="0.9" fill="none"/>
<rect x="514.2" y="283.4" width="18.6" height="5.2" fill="#e4b935" stroke="#7d6420" stroke-width="0.8"/>
<path d="M515.7 283.8 l5 4.4 M531.3 283.8 l-5 4.4 M523.5 283.4 v5" stroke="#8a7020" stroke-width="0.9" fill="none"/>
<rect x="409.6" y="250.2" width="141.4" height="33.6" fill="#e6bd3c" stroke="#8a6e22" stroke-width="0.9"/>
<rect x="409.6" y="263" width="141.4" height="8.2" fill="#0c0a08"/>
<rect x="421" y="265.1" width="118" height="4" fill="#744634"/>
<rect x="409.8" y="264.8" width="7" height="4.4" fill="#3a3a3a"/>
<rect x="416.5" y="262" width="2.4" height="12.5" fill="#a0603a"/>
<rect x="421" y="262.2" width="17" height="9.6" fill="#15110e"/>
<rect x="424" y="264.6" width="5" height="4.6" fill="#5a6068"/>
<rect x="538" y="262.6" width="6" height="9" fill="#22201e"/>
<rect x="539.6" y="264.6" width="1.4" height="5" fill="#9aa0b0"/>
<rect x="463.6" y="260.8" width="1.2" height="12.8" fill="#0c0a08"/>
<rect x="509.6" y="260.8" width="1.2" height="12.8" fill="#0c0a08"/>
<rect x="551" y="264.4" width="6" height="5.4" fill="#0c0a08"/>
<rect x="556.8" y="252.8" width="13.8" height="28.1" fill="#2a9698" stroke="#0a2a2b" stroke-width="0.9"/>
<rect x="557.6" y="260.8" width="12.2" height="12.1" fill="#1c6f72" opacity="0.55"/>
<polygon points="569.8,266.85 570.18,268.88 568.96,270.38 567.92,272.12 566.15,272.9 564.47,271.49 563.16,270.81 560.63,271.15 560.83,268.63 560.61,266.85 559.25,264.42 561.27,263.16 562.22,261.06 564.31,261.17 566.16,260.76 567.4,262.58 569.42,262.88 570.88,264.54" fill="#050a0a"/>
<rect x="557.3" y="264.75" width="12.8" height="4.2" fill="#050a0a"/>
<rect x="558.65" y="258.22" width="1.47" height="1.51" fill="#06201f" opacity="0.85"/>
<rect x="565.43" y="273.92" width="1.59" height="2.29" fill="#06201f" opacity="0.85"/>
<rect x="560.35" y="273.99" width="1.56" height="1.96" fill="#06201f" opacity="0.85"/>
<rect x="563.08" y="276.09" width="1.36" height="1.98" fill="#06201f" opacity="0.85"/>
<rect x="558.83" y="256.02" width="2.05" height="1.66" fill="#06201f" opacity="0.85"/>
<rect x="563.8" y="259.61" width="2.07" height="2.02" fill="#06201f" opacity="0.85"/>
<rect x="558.7" y="257.53" width="2.06" height="2.1" fill="#06201f" opacity="0.85"/>
<rect x="557.5" y="280.3" width="2.2" height="2.4" rx="0.8" fill="#050808"/>
<rect x="557.5" y="251.4" width="2.2" height="2" rx="0.8" fill="#050808"/>
<rect x="567.7" y="280.3" width="2.2" height="2.4" rx="0.8" fill="#050808"/>
<rect x="567.7" y="251.4" width="2.2" height="2" rx="0.8" fill="#050808"/>
<rect x="570.2" y="253.4" width="7.2" height="26.8" fill="#c4c7ca" stroke="#4a4e52" stroke-width="0.8"/>
<path d="M574 253.4 v26.8 M570.2 258 h7.6 M570.2 262.5 h7.6 M570.2 271.5 h7.6 M570.2 276 h7.6" stroke="#4a4e52" stroke-width="0.8" fill="none"/>
<rect x="570.2" y="261" width="5" height="11.6" fill="#101414"/>
<rect x="567" y="250.8" width="4" height="5.6" rx="1.5" fill="#d6d040"/>
<path d="M566 258 l6 5 v8 l-6 5 z" fill="#06100f"/>
<rect x="577" y="264.2" width="38" height="4.8" fill="#55585c"/>
<rect x="586.4" y="261.4" width="4.4" height="10.4" rx="1.2" fill="#6e6a24"/>
<rect x="587.6" y="264.6" width="2" height="4" fill="#c8c8c8"/>
<rect x="597.6" y="261.4" width="4.4" height="10.4" rx="1.2" fill="#6e6a24"/>
<rect x="598.8" y="264.6" width="2" height="4" fill="#c8c8c8"/>
<rect x="577.6" y="261.8" width="2.6" height="9.6" rx="1" fill="#6e6a24"/>
<rect x="608.6" y="261.8" width="2.6" height="9.6" rx="1" fill="#6e6a24"/>
<rect x="579.5" y="257" width="6.8" height="18.8" rx="3.4" ry="5" fill="url(#redg)" stroke="#4a0508" stroke-width="0.5"/>
<rect x="591" y="257" width="6.8" height="18.8" rx="3.4" ry="5" fill="url(#redg)" stroke="#4a0508" stroke-width="0.5"/>
<rect x="601.9" y="257" width="6.8" height="18.8" rx="3.4" ry="5" fill="url(#redg)" stroke="#4a0508" stroke-width="0.5"/>
<circle cx="613.2" cy="266.6" r="2.1" fill="#08080a"/>
<rect x="616.6" y="260.2" width="13.2" height="13.2" fill="#141416"/>
<rect x="616" y="259.6" width="2.6" height="14.4" fill="#08080a"/>
<rect x="627.4" y="259.6" width="2.6" height="14.4" fill="#08080a"/>
<path d="M621 260.4 v12.8 M623.4 260.4 v12.8 M625.6 260.4 v12.8" stroke="#5a4030" stroke-width="0.9"/>
<rect x="618.6" y="263.6" width="9" height="2" fill="#4a4e55" opacity="0.8"/>
</g>
</g>
</svg>
</body></html>
